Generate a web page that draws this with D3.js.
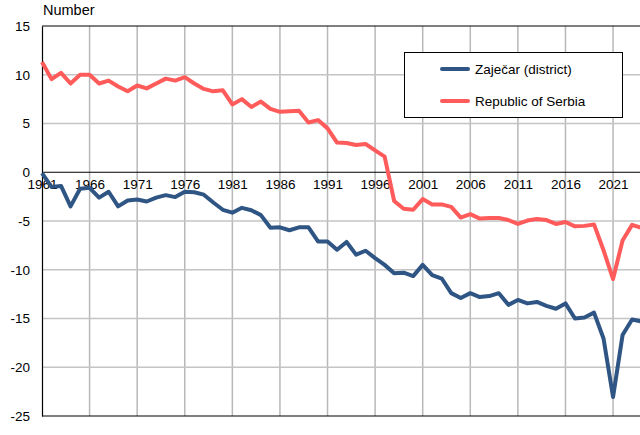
<!DOCTYPE html>
<html>
<head>
<meta charset="utf-8">
<script src="https://cdn.jsdelivr.net/npm/d3@7"></script>
<style>
  body { margin: 0; background: #fff; }
  svg { display: block; font-family: "Liberation Sans", Arial, sans-serif; }
</style>
</head>
<body>
<div id="chart"></div>
<script>
// years 1961..2024
const years = d3.range(1961, 2025)

const zajecar = [
  -0.1, -1.5, -1.4, -3.5, -1.7, -1.6, -2.6, -2.0, -3.5, -2.9,
  -2.8, -3.0, -2.6, -2.35, -2.55, -2.0, -2.05, -2.3, -3.1, -3.85,
  -4.15, -3.65, -3.9, -4.4, -5.7, -5.65, -5.95, -5.65, -5.65, -7.1,
  -7.1, -7.95, -7.15, -8.45, -8.05, -8.8, -9.5, -10.35, -10.3, -10.65,
  -9.5, -10.55, -10.9, -12.4, -12.9, -12.4, -12.8, -12.7, -12.4, -13.6,
  -13.1, -13.45, -13.3, -13.7, -14.0, -13.45, -15.0, -14.9, -14.4, -17.05,
  -23.05, -16.7, -15.1, -15.3
]

const serbia = [
  11.3, 9.55, 10.2, 9.1, 10.0, 10.0, 9.1, 9.4, 8.8, 8.3,
  8.9, 8.6, 9.1, 9.6, 9.4, 9.75, 9.1, 8.55, 8.3, 8.4,
  6.95, 7.5, 6.7, 7.25, 6.5, 6.2, 6.25, 6.3, 5.1, 5.35,
  4.5, 3.05, 3.0, 2.8, 2.9, 2.25, 1.6, -2.95, -3.75, -3.85,
  -2.75, -3.3, -3.3, -3.55, -4.65, -4.3, -4.75, -4.7, -4.7, -4.9,
  -5.3, -4.95, -4.8, -4.9, -5.3, -5.1, -5.55, -5.5, -5.35, -8.0,
  -10.95, -7.0, -5.4, -5.7
]

const yTicks = [15, 10, 5, 0, -5, -10, -15, -20, -25]
const xTicks = d3.range(1961, 2025, 5)

const seriesNames = ["Zaječar (district)", "Republic of Serbia"]
const seriesColors = ["#2f5584", "#ff5b5b"]

const W = 640, H = 435
const margin = { top: 26, left: 42, bottom: 19 }

const svg = d3.select("#chart").append("svg")
  .attr("width", W).attr("height", H)

const x = d3.scaleLinear().domain([1961, 2024]).range([margin.left, 641.6])
const y = d3.scaleLinear().domain([-25, 15]).range([H - margin.bottom, margin.top])

// grid
svg.append("g")
  .selectAll("line")
  .data(xTicks.slice(1))
  .join("line")
  .attr("x1", d => x(d)).attr("x2", d => x(d))
  .attr("y1", y(15)).attr("y2", y(-25))
  .attr("stroke", "#b8b8b8").attr("stroke-width", 1.5)

svg.append("g")
  .selectAll("line")
  .data(yTicks.filter(d => d !== 0 && d !== 15 && d !== -25))
  .join("line")
  .attr("x1", x(1961)).attr("x2", W)
  .attr("y1", d => y(d)).attr("y2", d => y(d))
  .attr("stroke", "#c4c4c4").attr("stroke-width", 1.5)

// frame
svg.append("line").attr("x1", x(1961)).attr("x2", W)
  .attr("y1", y(15)).attr("y2", y(15)).attr("stroke", "#000").attr("stroke-width", 1.2)
svg.append("line").attr("x1", x(1961)).attr("x2", W)
  .attr("y1", y(-25)).attr("y2", y(-25)).attr("stroke", "#000").attr("stroke-width", 1.2)
svg.append("line").attr("x1", x(1961)).attr("x2", W)
  .attr("y1", y(0)).attr("y2", y(0)).attr("stroke", "#000").attr("stroke-width", 1.2)

// y axis (plain hyphen for negatives)
const yAxis = d3.axisLeft(y).tickValues(yTicks).tickFormat(d => String(d)).tickSize(0).tickPadding(12)
const gy = svg.append("g")
  .attr("transform", `translate(${x(1961)},0)`)
  .call(yAxis)
gy.select(".domain").attr("stroke", "#000").attr("stroke-width", 1.2)
gy.selectAll("text").attr("font-size", 13.5).attr("fill", "#000")
  .attr("font-family", "Liberation Sans, Arial, sans-serif")

// x axis labels sit on the zero line
const xAxis = d3.axisBottom(x).tickValues(xTicks).tickFormat(d3.format("d")).tickSize(0).tickPadding(7)
const gx = svg.append("g")
  .attr("transform", `translate(0,${y(0)})`)
  .call(xAxis)
gx.select(".domain").remove()
gx.selectAll("text").attr("font-size", 13.5).attr("fill", "#000")
  .attr("font-family", "Liberation Sans, Arial, sans-serif")

svg.append("text")
  .attr("x", 43).attr("y", 15)
  .attr("font-size", 14.5)
  .text("Number")

// lines
const line = d3.line()
  .x((d, i) => x(years[i]))
  .y(d => y(d))

svg.append("g")
  .selectAll("path")
  .data([serbia, zajecar])
  .join("path")
  .attr("d", d => line(d))
  .attr("fill", "none")
  .attr("stroke", (d, i) => i === 0 ? seriesColors[1] : seriesColors[0])
  .attr("stroke-width", 4)
  .attr("stroke-linejoin", "round")

// legend
const lg = svg.append("g")
lg.append("rect")
  .attr("x", 404.5).attr("y", 52.5).attr("width", 218).attr("height", 65)
  .attr("fill", "#fff").attr("stroke", "#000").attr("stroke-width", 1)

seriesNames.forEach((name, i) => {
  const ly = 69 + i * 32
  lg.append("line")
    .attr("x1", 442).attr("x2", 468).attr("y1", ly).attr("y2", ly)
    .attr("stroke", seriesColors[i]).attr("stroke-width", 4).attr("stroke-linecap", "round")
  lg.append("text")
    .attr("x", 475).attr("y", ly + 4.5)
    .attr("font-size", 13.5)
    .text(name)
})
</script>
</body>
</html>
